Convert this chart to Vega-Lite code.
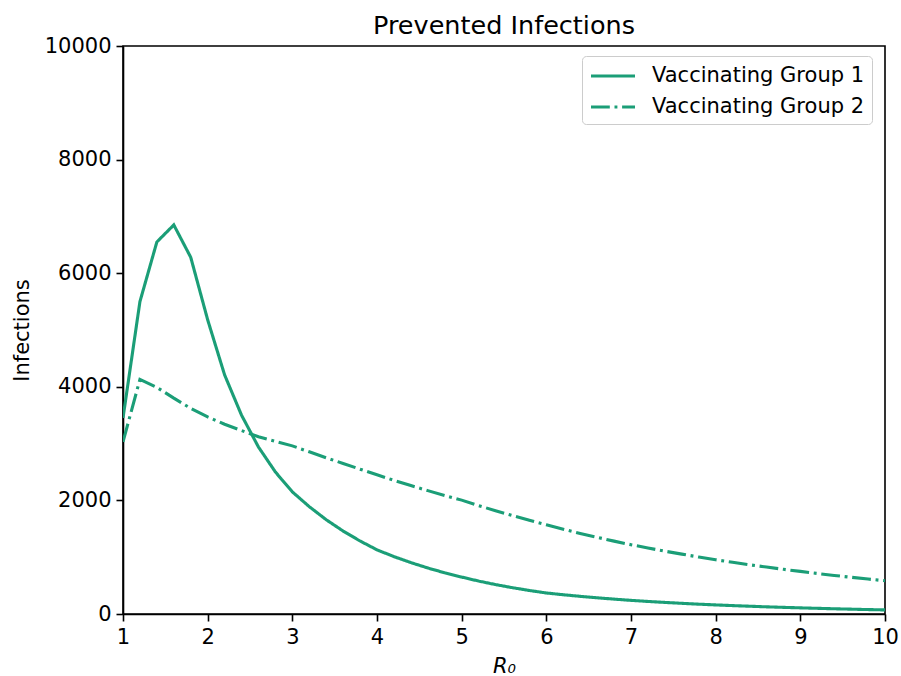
{
  "$schema": "https://vega.github.io/schema/vega-lite/v6.json",
  "width": 762,
  "height": 568,
  "autosize": "none",
  "padding": {"left": 123, "top": 46, "right": 16, "bottom": 62},
  "background": "white",
  "title": {"text": "Prevented Infections", "fontSize": 25.5, "fontWeight": "normal", "font": "DejaVu Sans", "color": "black", "offset": -4},
  "config": {
    "font": "DejaVu Sans",
    "view": {"stroke": "black", "strokeWidth": 1.6},
    "axis": {
      "grid": false,
      "domainColor": "black",
      "domainWidth": 1.6,
      "tickColor": "black",
      "tickWidth": 1.6,
      "tickSize": 7,
      "labelFont": "DejaVu Sans",
      "labelFontSize": 21,
      "labelColor": "black",
      "labelPadding": 5,
      "titleFont": "DejaVu Sans",
      "titleFontSize": 21,
      "titleFontWeight": "normal",
      "titleColor": "black"
    }
  },
  "data": {
    "values": [
      {"R0": 1.0, "group": "Vaccinating Group 1", "infections": 3450},
      {"R0": 1.2, "group": "Vaccinating Group 1", "infections": 5500},
      {"R0": 1.4, "group": "Vaccinating Group 1", "infections": 6550},
      {"R0": 1.6, "group": "Vaccinating Group 1", "infections": 6850},
      {"R0": 1.8, "group": "Vaccinating Group 1", "infections": 6280},
      {"R0": 2.0, "group": "Vaccinating Group 1", "infections": 5180},
      {"R0": 2.2, "group": "Vaccinating Group 1", "infections": 4210},
      {"R0": 2.4, "group": "Vaccinating Group 1", "infections": 3500},
      {"R0": 2.6, "group": "Vaccinating Group 1", "infections": 2940},
      {"R0": 2.8, "group": "Vaccinating Group 1", "infections": 2500},
      {"R0": 3.0, "group": "Vaccinating Group 1", "infections": 2150},
      {"R0": 3.2, "group": "Vaccinating Group 1", "infections": 1890},
      {"R0": 3.4, "group": "Vaccinating Group 1", "infections": 1660},
      {"R0": 3.6, "group": "Vaccinating Group 1", "infections": 1460},
      {"R0": 3.8, "group": "Vaccinating Group 1", "infections": 1285},
      {"R0": 4.0, "group": "Vaccinating Group 1", "infections": 1130},
      {"R0": 4.2, "group": "Vaccinating Group 1", "infections": 1010},
      {"R0": 4.4, "group": "Vaccinating Group 1", "infections": 905},
      {"R0": 4.6, "group": "Vaccinating Group 1", "infections": 810},
      {"R0": 4.8, "group": "Vaccinating Group 1", "infections": 725},
      {"R0": 5.0, "group": "Vaccinating Group 1", "infections": 650},
      {"R0": 5.2, "group": "Vaccinating Group 1", "infections": 580},
      {"R0": 5.4, "group": "Vaccinating Group 1", "infections": 518},
      {"R0": 5.6, "group": "Vaccinating Group 1", "infections": 463},
      {"R0": 5.8, "group": "Vaccinating Group 1", "infections": 414},
      {"R0": 6.0, "group": "Vaccinating Group 1", "infections": 370},
      {"R0": 6.2, "group": "Vaccinating Group 1", "infections": 339},
      {"R0": 6.4, "group": "Vaccinating Group 1", "infections": 311},
      {"R0": 6.6, "group": "Vaccinating Group 1", "infections": 285},
      {"R0": 6.8, "group": "Vaccinating Group 1", "infections": 262},
      {"R0": 7.0, "group": "Vaccinating Group 1", "infections": 240},
      {"R0": 7.2, "group": "Vaccinating Group 1", "infections": 221},
      {"R0": 7.4, "group": "Vaccinating Group 1", "infections": 204},
      {"R0": 7.6, "group": "Vaccinating Group 1", "infections": 188},
      {"R0": 7.8, "group": "Vaccinating Group 1", "infections": 173},
      {"R0": 8.0, "group": "Vaccinating Group 1", "infections": 160},
      {"R0": 8.2, "group": "Vaccinating Group 1", "infections": 148},
      {"R0": 8.4, "group": "Vaccinating Group 1", "infections": 137},
      {"R0": 8.6, "group": "Vaccinating Group 1", "infections": 126},
      {"R0": 8.8, "group": "Vaccinating Group 1", "infections": 117},
      {"R0": 9.0, "group": "Vaccinating Group 1", "infections": 108},
      {"R0": 9.2, "group": "Vaccinating Group 1", "infections": 100},
      {"R0": 9.4, "group": "Vaccinating Group 1", "infections": 92},
      {"R0": 9.6, "group": "Vaccinating Group 1", "infections": 85},
      {"R0": 9.8, "group": "Vaccinating Group 1", "infections": 78},
      {"R0": 10.0, "group": "Vaccinating Group 1", "infections": 72},
      {"R0": 1.0, "group": "Vaccinating Group 2", "infections": 3030},
      {"R0": 1.2, "group": "Vaccinating Group 2", "infections": 4130},
      {"R0": 1.4, "group": "Vaccinating Group 2", "infections": 3990},
      {"R0": 1.6, "group": "Vaccinating Group 2", "infections": 3800},
      {"R0": 1.8, "group": "Vaccinating Group 2", "infections": 3620},
      {"R0": 2.0, "group": "Vaccinating Group 2", "infections": 3470},
      {"R0": 2.2, "group": "Vaccinating Group 2", "infections": 3340},
      {"R0": 2.4, "group": "Vaccinating Group 2", "infections": 3230},
      {"R0": 2.6, "group": "Vaccinating Group 2", "infections": 3120},
      {"R0": 2.8, "group": "Vaccinating Group 2", "infections": 3040},
      {"R0": 3.0, "group": "Vaccinating Group 2", "infections": 2960},
      {"R0": 3.2, "group": "Vaccinating Group 2", "infections": 2855},
      {"R0": 3.4, "group": "Vaccinating Group 2", "infections": 2750},
      {"R0": 3.6, "group": "Vaccinating Group 2", "infections": 2650},
      {"R0": 3.8, "group": "Vaccinating Group 2", "infections": 2550},
      {"R0": 4.0, "group": "Vaccinating Group 2", "infections": 2450},
      {"R0": 4.2, "group": "Vaccinating Group 2", "infections": 2353},
      {"R0": 4.4, "group": "Vaccinating Group 2", "infections": 2261},
      {"R0": 4.6, "group": "Vaccinating Group 2", "infections": 2172},
      {"R0": 4.8, "group": "Vaccinating Group 2", "infections": 2087},
      {"R0": 5.0, "group": "Vaccinating Group 2", "infections": 2005},
      {"R0": 5.2, "group": "Vaccinating Group 2", "infections": 1909},
      {"R0": 5.4, "group": "Vaccinating Group 2", "infections": 1818},
      {"R0": 5.6, "group": "Vaccinating Group 2", "infections": 1732},
      {"R0": 5.8, "group": "Vaccinating Group 2", "infections": 1649},
      {"R0": 6.0, "group": "Vaccinating Group 2", "infections": 1570},
      {"R0": 6.2, "group": "Vaccinating Group 2", "infections": 1493},
      {"R0": 6.4, "group": "Vaccinating Group 2", "infections": 1419},
      {"R0": 6.6, "group": "Vaccinating Group 2", "infections": 1350},
      {"R0": 6.8, "group": "Vaccinating Group 2", "infections": 1283},
      {"R0": 7.0, "group": "Vaccinating Group 2", "infections": 1220},
      {"R0": 7.2, "group": "Vaccinating Group 2", "infections": 1162},
      {"R0": 7.4, "group": "Vaccinating Group 2", "infections": 1106},
      {"R0": 7.6, "group": "Vaccinating Group 2", "infections": 1054},
      {"R0": 7.8, "group": "Vaccinating Group 2", "infections": 1003},
      {"R0": 8.0, "group": "Vaccinating Group 2", "infections": 955},
      {"R0": 8.2, "group": "Vaccinating Group 2", "infections": 910},
      {"R0": 8.4, "group": "Vaccinating Group 2", "infections": 867},
      {"R0": 8.6, "group": "Vaccinating Group 2", "infections": 826},
      {"R0": 8.8, "group": "Vaccinating Group 2", "infections": 787},
      {"R0": 9.0, "group": "Vaccinating Group 2", "infections": 750},
      {"R0": 9.2, "group": "Vaccinating Group 2", "infections": 714},
      {"R0": 9.4, "group": "Vaccinating Group 2", "infections": 679},
      {"R0": 9.6, "group": "Vaccinating Group 2", "infections": 646},
      {"R0": 9.8, "group": "Vaccinating Group 2", "infections": 615},
      {"R0": 10.0, "group": "Vaccinating Group 2", "infections": 585}
    ]
  },
  "mark": {"type": "line", "color": "#1b9e77", "strokeWidth": 3.1, "clip": true},
  "encoding": {
    "x": {
      "field": "R0", "type": "quantitative",
      "scale": {"domain": [1, 10], "nice": false, "zero": false},
      "axis": {"values": [1,2,3,4,5,6,7,8,9,10], "title": "R₀", "titleFontStyle": "italic", "titlePadding": 8, "labelFlush": false}
    },
    "y": {
      "field": "infections", "type": "quantitative",
      "scale": {"domain": [0, 10000], "nice": false},
      "axis": {"values": [0,2000,4000,6000,8000,10000], "format": "d", "title": "Infections", "titlePadding": 12}
    },
    "detail": {"field": "group"},
    "strokeDash": {
      "field": "group", "type": "nominal",
      "scale": {"domain": ["Vaccinating Group 1", "Vaccinating Group 2"], "range": [[1, 0], [18.8, 4.7, 2.9, 4.7]]},
      "legend": {
        "title": null,
        "orient": "none",
        "legendX": 459,
        "legendY": 10,
        "fillColor": "white",
        "strokeColor": "#cccccc",
        "cornerRadius": 4,
        "padding": 7,
        "rowPadding": 8,
        "symbolType": "M-1,0H3",
        "symbolSize": 484,
        "symbolStrokeColor": "#1b9e77",
        "symbolStrokeWidth": 3.1,
        "labelFont": "DejaVu Sans",
        "labelFontSize": 21,
        "labelColor": "black",
        "labelOffset": 37,
        "labelLimit": 0
      }
    }
  }
}
